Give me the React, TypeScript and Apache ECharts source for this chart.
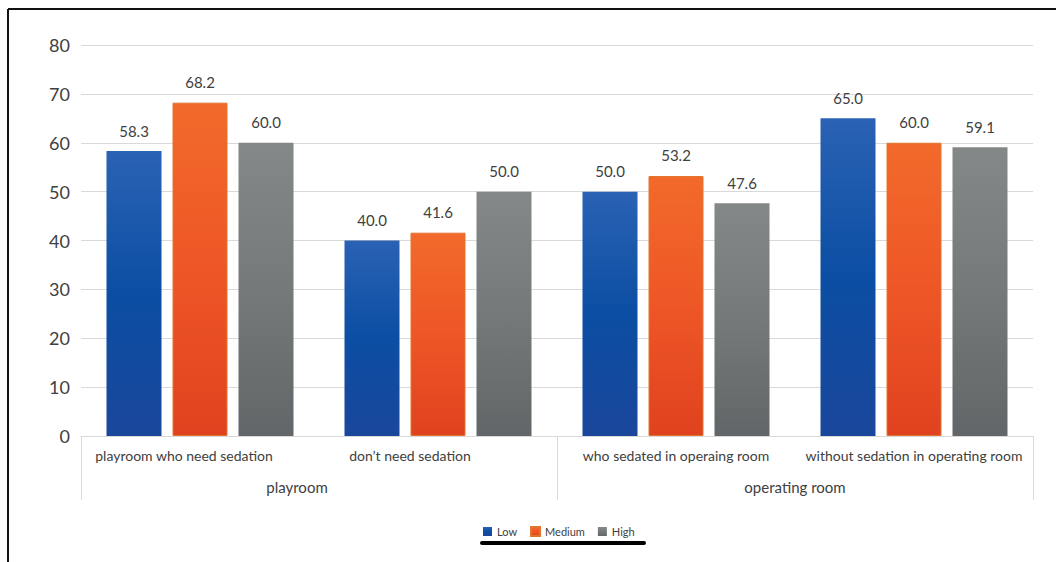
import React, { useEffect, useRef } from "react";
import * as echarts from "echarts";

const categories = [
  "playroom who need sedation",
  "don\u2019t need sedation",
  "who sedated in operaing room",
  "without sedation in operating room",
];
const groups = ["playroom", "operating room"];
const seriesNames = ["Low", "Medium", "High"];
const lowValues = [58.3, 40.0, 50.0, 65.0];
const mediumValues = [68.2, 41.6, 53.2, 60.0];
const highValues = [60.0, 50.0, 47.6, 59.1];
const yTicks = [0, 10, 20, 30, 40, 50, 60, 70, 80];

const FONT = "Lato, 'Noto Sans', sans-serif";

const grad = (top: string, mid: string, bottom: string) =>
  new echarts.graphic.LinearGradient(0, 0, 0, 1, [
    { offset: 0, color: top },
    { offset: 0.5, color: mid },
    { offset: 1, color: bottom },
  ]);

export default function App() {
  const ref = useRef<HTMLDivElement>(null);
  useEffect(() => {
    if (!ref.current) return;
    const chart = echarts.init(ref.current, undefined, { renderer: "svg" });
    const label = {
      show: true,
      position: "top" as const,
      distance: 13,
      fontFamily: FONT,
      fontSize: 15,
      color: "#404040",
      formatter: (p: any) => Number(p.value).toFixed(1),
    };
    const colors = [
      grad("#2a62b4", "#0b4ea3", "#1a479c"),
      grad("#f26a2b", "#ee5626", "#e0421f"),
      grad("#858888", "#767979", "#636668"),
    ];
    const datas = [lowValues, mediumValues, highValues];
    const catShift = [32, 56, 0, 0];
    const groupShift = [44, 0];
    chart.setOption({
      animation: false,
      textStyle: { fontFamily: FONT },
      grid: { left: 81, right: 23, top: 45, bottom: 126, containLabel: false },
      legend: {
        data: seriesNames,
        top: 521,
        left: 478,
        icon: "rect",
        itemWidth: 9,
        itemHeight: 9,
        itemGap: 13,
        textStyle: { fontFamily: FONT, fontSize: 11, color: "#404040" },
      },
      xAxis: [
        {
          type: "category",
          data: categories,
          position: "bottom",
          axisLine: { show: true, lineStyle: { color: "#d9d9d9", width: 1 } },
          axisTick: { show: false },
          axisLabel: {
            interval: 0,
            margin: 12,
            fontFamily: FONT,
            fontSize: 14,
            color: "#404040",
            formatter: (v: string, i: number) => `{s${catShift[i]}|${v}}`,
            rich: {
              s0: { fontFamily: FONT, fontSize: 14, color: "#404040" },
              s32: { fontFamily: FONT, fontSize: 14, color: "#404040", padding: [0, 32, 0, 0] },
              s56: { fontFamily: FONT, fontSize: 14, color: "#404040", padding: [0, 56, 0, 0] },
            },
          },
        },
        {
          type: "category",
          data: groups,
          position: "bottom",
          axisLine: { show: false },
          axisTick: {
            show: true,
            length: 64,
            lineStyle: { color: "#d9d9d9", width: 1 },
          },
          axisLabel: {
            interval: 0,
            margin: 43,
            fontFamily: FONT,
            fontSize: 15,
            color: "#404040",
            formatter: (v: string, i: number) => `{g${groupShift[i]}|${v}}`,
            rich: {
              g0: { fontFamily: FONT, fontSize: 15, color: "#404040" },
              g44: { fontFamily: FONT, fontSize: 15, color: "#404040", padding: [0, 44, 0, 0] },
            },
          },
        },
      ],
      yAxis: {
        type: "value",
        min: yTicks[0],
        max: yTicks[yTicks.length - 1],
        interval: 10,
        axisLine: { show: false },
        axisTick: { show: false },
        axisLabel: {
          margin: 11,
          fontFamily: FONT,
          fontSize: 18,
          color: "#404040",
        },
        splitLine: { lineStyle: { color: "#d9d9d9", width: 1 } },
      },
      series: seriesNames.map((name, i) => ({
        name,
        type: "bar",
        xAxisIndex: 0,
        data: datas[i],
        barWidth: 55,
        barGap: "20%",
        itemStyle: {
          color: colors[i],
          borderColor: i === 1 ? "#e0762e" : undefined,
          borderWidth: i === 1 ? 1 : 0,
        },
        label,
      })),
      color: ["#1a56a8", "#ee5a26", "#737676"],
      graphic: [
        {
          type: "line",
          shape: { x1: 8, y1: 9, x2: 1056, y2: 9 },
          style: { stroke: "#111", lineWidth: 2 },
        },
        {
          type: "line",
          shape: { x1: 8, y1: 9, x2: 8, y2: 562 },
          style: { stroke: "#111", lineWidth: 2 },
        },
        {
          type: "rect",
          shape: { x: 480, y: 541, width: 166, height: 4, r: 2 },
          style: { fill: "#000" },
        },
      ],
    });
    return () => chart.dispose();
  }, []);
  return (
    <div
      ref={ref}
      style={{ position: "fixed", left: 0, top: 0, width: 1056, height: 562, background: "#fff" }}
    />
  );
}
